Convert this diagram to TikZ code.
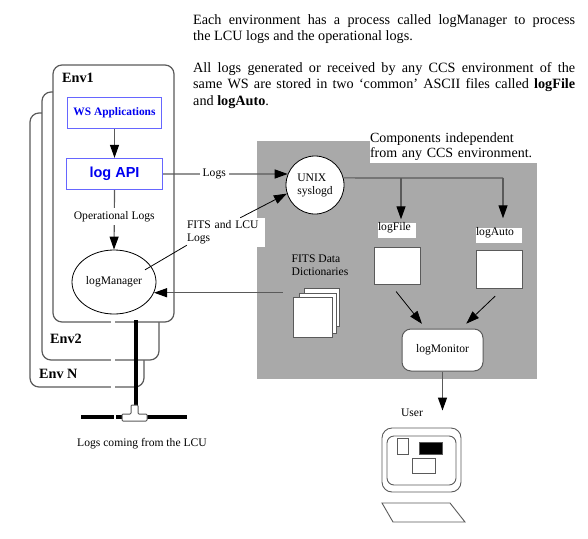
\documentclass[tikz,border=0pt]{standalone}
\usepackage{fontspec}
\setmainfont{Liberation Serif}
\setsansfont{Liberation Sans}
\usetikzlibrary{positioning,arrows.meta,calc,shapes.geometric}
\definecolor{logWire}{HTML}{5A5A5A}
\definecolor{logPanel}{HTML}{A9A9A9}
\definecolor{logBlue}{HTML}{0000F0}
\definecolor{logEdge}{HTML}{6666FF}
\newcommand{\lblfont}{\fontsize{11.6}{13}\selectfont}
\newcommand{\notefont}{\fontsize{14.2}{16.5}\selectfont}
\tikzset{
  wire/.style      = {line width=1.2pt, draw=logWire},
  link/.style      = {wire, -{Triangle[length=13pt,width=9pt,color=black,fill=black]}},
  thinlink/.style  = {line width=0.8pt, draw=black},
  thinarrow/.style = {thinlink, -{Triangle[length=13pt,width=9pt,color=black,fill=black]}},
  envbox/.style    = {rounded corners=9pt, draw=logWire, line width=1.2pt, fill=white,
                      inner sep=0pt},
  envlbl/.style    = {font=\fontsize{14.2}{15}\selectfont\bfseries, anchor=west, inner sep=0pt},
  wsbox/.style     = {draw=logEdge, line width=1.3pt, fill=white, inner sep=0pt, text=logBlue},
  filebox/.style   = {draw=logWire, line width=1pt, fill=white, inner sep=0pt},
  lbl/.style       = {font=\lblfont, align=left, inner sep=0pt},
  patchlbl/.style  = {lbl, fill=white, text height=8pt, text depth=7pt},
  note/.style      = {font=\notefont, align=justify, text width=382pt, anchor=north west,
                      inner sep=0pt},
  bus/.style       = {line width=4.6pt, draw=black},
  gapline/.style   = {line width=2.4pt, draw=white},
  screenbox/.style = {draw=logWire, line width=0.9pt, inner sep=0pt},
}
\begin{document}
\begin{tikzpicture}[x=1pt,y=-1pt]
  \useasboundingbox (0,0) rectangle (588,538);

  \node[note] (introa) at (193,14) {Each environment has a process called logManager to process\linebreak
    the LCU logs and the operational logs.};
  \node[note] (introb) at (193,62) {All logs generated or received by any CCS environment of the\linebreak
    same WS are stored in two `common' ASCII files called \textbf{logFile}\linebreak
    and \textbf{logAuto}.};

  \node[minimum width=280pt, minimum height=238pt, inner sep=0pt, fill=logPanel] (panel) at (397,260) {};
  \node[lbl, fill=white, minimum height=33pt, font=\fontsize{14}{15}\selectfont, text width=167pt] (indep) at (453.5,146.5)
    {Components independent\\from any CCS environment.};

  \node[envbox, minimum width=114pt, minimum height=274pt] (envn) at (87,250) {};
  \node[envbox, minimum width=117pt, minimum height=268pt] (env2) at (100.5,226) {};
  \node[envbox, minimum width=121pt, minimum height=257pt] (env1) at (113.5,193.5) {};
  \node[envlbl] (envonelbl) at (62,78) {Env1};
  \node[envlbl] (envtwolbl) at (50,339) {Env2};
  \node[envlbl] (envnlbl) at (39,374) {Env N};
  \foreach \gapy in {322,360,387}
    \draw[gapline] (110.5,\gapy) -- (114.5,\gapy);

  \node[wsbox, minimum width=94pt, minimum height=31pt, font=\fontsize{11.4}{13}\selectfont\bfseries] (wsapps) at (114.5,113) {WS Applications};
  \node[wsbox, minimum width=96pt, minimum height=31pt, font=\fontsize{14.5}{16}\selectfont\sffamily\bfseries] (logapi) at (114.5,174) {log API};
  \node[ellipse, draw=black, line width=0.8pt, minimum width=84pt, minimum height=64pt, inner sep=0pt, fill=white, font=\lblfont] (logmanager) at (114,282) {logManager};

  \node[circle, draw=black, line width=0.8pt, minimum size=58pt, inner sep=0pt, fill=white, font=\lblfont, align=left] (syslogd) at (315,185) {UNIX\\syslogd};
  \node[patchlbl, text width=38pt] (logfilelbl) at (397,230) {logFile};
  \node[patchlbl, text width=46pt] (logautolbl) at (499,235) {logAuto};
  \node[filebox, minimum width=46pt, minimum height=37pt] (filea) at (397,265.5) {};
  \node[filebox, minimum width=46pt, minimum height=38pt] (fileb) at (499,269) {};
  \node[filebox, rounded corners=9pt, minimum width=81pt, minimum height=42pt, font=\lblfont] (logmonitor) at (442.5,350) {logMonitor};

  \node[lbl] (fitsdata) at (320,265) {FITS Data\\Dictionaries};
  \node[filebox, minimum width=35pt, minimum height=38pt] (docc) at (321.5,307) {};
  \node[filebox, minimum width=37pt, minimum height=40pt] (docb) at (317.5,313) {};
  \node[filebox, minimum width=39pt, minimum height=40pt] (doca) at (312.5,317) {};

  \node[lbl, fill=white, minimum height=29pt, text width=78pt] (fitslbl) at (226,232.5) {FITS and LCU\\Logs};

  \draw[link] (wsapps) -- (logapi);
  \draw[link] (logapi.south) -- node[lbl, fill=white, pos=.44, inner ysep=3pt] (oplogs) {Operational Logs} (logmanager.north);
  \draw[link] (logapi.east) -- node[lbl, fill=white, pos=.41, inner xsep=3pt] (logslbl) {Logs} (syslogd.158);
  \draw[thinarrow] (fitslbl.46) -- (syslogd.197);
  \draw[thinlink, shorten >=-7pt] (fitslbl.198) -- (logmanager.23);
  \draw[link, shorten <=21pt] (docc.west|-logmanager.345) -- (logmanager.345);

  \coordinate (teea) at (401,178);
  \coordinate (teeb) at (503,178);
  \draw[wire] (syslogd.14) -- (teeb);
  \draw[link, shorten >=3pt] (teea) -- (teea|-logfilelbl.north);
  \draw[link, shorten >=9pt] (teeb) -- (teeb|-logautolbl.north);
  \draw[thinarrow, shorten <=9pt, shorten >=6pt] (filea.251) -- (logmonitor.128);
  \draw[thinarrow, shorten <=11pt, shorten >=7pt] (fileb.282) -- (logmonitor.49);

  \node[screenbox, rounded corners=10pt, minimum width=79pt, minimum height=64pt] (screen) at (421.5,460) {};
  \node[screenbox, rounded corners=7pt, minimum width=69pt, minimum height=49pt] (screenin) at (421.5,460.5) {};
  \node[screenbox, minimum width=11pt, minimum height=16pt] (wina) at (402.5,446) {};
  \node[screenbox, minimum width=23pt, minimum height=12pt, fill=black] (winb) at (430.5,448) {};
  \node[screenbox, minimum width=23pt, minimum height=15pt] (winc) at (423.5,465.5) {};
  \draw[screenbox] (382,503) -- (450,503) -- (465,522) -- (393,522) -- cycle;
  \node[lbl] (userlbl) at (412,413) {User};
  \draw[link, shorten >=17pt] (logmonitor.south) -- (logmonitor.south|-screen.north);

  \coordinate (bustop) at (136,320);
  \coordinate (busdrop) at (136,406);
  \coordinate (busleft) at (81,417);
  \coordinate (busright) at (187,417);
  \draw[bus] (bustop) -- (busdrop);
  \draw[bus] (busleft) -- (busright);
  \draw[gapline] (115,414) -- (115,420);
  \draw[filebox, rounded corners=1pt] (122,414) -- (131,414) -- (131,405) -- (138,405) -- (138,414)
    -- (147,414) -- (147,421) -- (122,421) -- cycle;
  \node[lbl] (lcuLbl) at (142,444) {Logs coming from the LCU};
\end{tikzpicture}
\end{document}
